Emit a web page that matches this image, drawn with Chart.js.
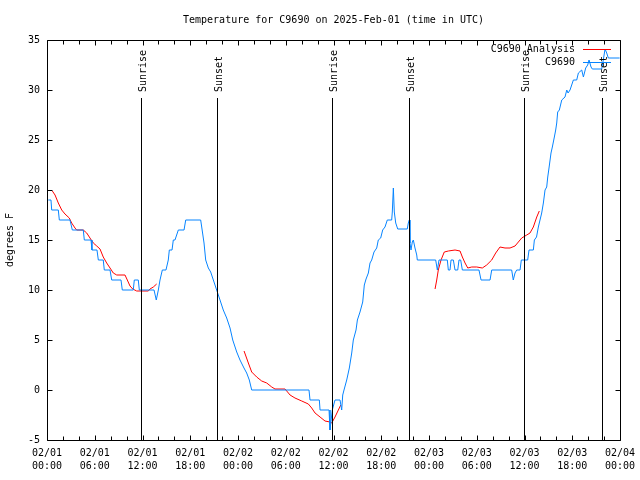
<!DOCTYPE html>
<html>
<head>
<meta charset="utf-8">
<script src="https://cdn.jsdelivr.net/npm/chart.js@4.4.1/dist/chart.umd.min.js"></script>
<style>
  html, body { margin: 0; padding: 0; background: #fff; }
  #wrap { width: 640px; height: 480px; }
</style>
</head>
<body>
<div id="wrap"><canvas id="chart" width="640" height="480"></canvas></div>
<script>
// hours since 02/01 00:00 UTC
const obsHours = [0.16,0.50,0.59,1.42,1.55,2.89,3.18,4.56,4.69,5.53,
  5.65,6.28,6.45,7.07,7.20,7.92,8.13,9.30,9.46,10.84,
  10.97,11.47,11.60,13.45,13.73,13.99,14.20,14.49,14.95,15.24,
  15.37,15.71,15.87,16.08,16.50,17.22,17.43,19.31,19.44,19.73,
  19.94,20.27,20.57,20.90,21.32,21.74,22.15,22.58,23.00,23.34,
  23.84,24.25,24.75,25.09,25.42,25.72,32.92,33.05,34.22,34.31,
  35.44,35.56,35.85,36.19,36.82,37.03,37.16,37.32,37.66,37.99,
  38.29,38.49,38.83,39.00,39.33,39.67,39.87,40.09,40.38,40.59,
  40.80,41.09,41.43,41.63,41.93,42.18,42.47,42.76,43.31,43.39,
  43.52,43.64,43.82,44.07,45.27,45.40,45.53,45.61,45.74,45.90,
  46.03,46.24,46.46,46.53,48.84,49.05,49.26,50.30,50.43,50.64,
  50.77,51.06,51.27,51.61,51.77,51.98,52.19,54.28,54.54,55.67,
  55.88,58.39,58.59,58.81,59.02,59.44,59.60,60.40,60.57,61.11,
  61.24,61.51,61.74,61.95,62.16,62.37,62.58,62.79,62.92,63.08,
  63.33,63.50,63.75,63.92,64.05,64.17,64.38,64.68,65.09,65.31,
  65.47,65.72,66.14,66.56,66.77,67.19,67.40,67.69,67.94,68.11,
  68.36,68.52,69.70,69.90,70.12,70.33,70.53,71.95];
const obsTemps = [19,19,18,18,17,17,16,16,15,15,
  14,14,13,13,12,12,11,11,10,10,
  11,11,10,10,9,10,11,12,12,13,
  14,14,15,15,16,16,17,17,16.3,14.7,
  13,12.2,11.8,11,10,9,8,7.2,6.2,5,
  3.8,3,2.2,1.7,1,0,0,-1,-1,-2,
  -2,-4,-2,-1,-1,-2,-0.5,0,1,2.2,
  3.7,5,6,7,7.8,8.8,10.5,11.1,11.7,12.7,
  13,13.8,14.2,15,15.2,16,16.3,17,17,17.8,
  20.2,17.8,16.7,16.1,16.1,16.7,17,14.7,14,14.8,
  15,14.2,13.5,13,13,12,13,13,12,12,
  13,13,12,12,13,13,12,12,11,11,
  12,12,11,11.7,12,12,13,13,14,14,
  15,15.3,16.3,17,17.7,18.7,20,20.3,21.3,22.2,
  23.7,24.3,25.3,26,26.7,27.8,28,29,29.3,30,
  29.7,30,31,31,31.7,32,31.3,32.2,32.5,33,
  32.3,32.1,32.1,33,34.1,33.7,33.2,33.2];

// analysis, null = gap
const anaHours = [0.67,1.01,1.42,1.85,2.26,2.80,3.10,3.52,3.73,4.15,
  4.56,4.99,5.40,5.82,6.25,6.66,7.07,7.50,7.92,8.33,
  8.76,9.80,10.09,10.43,10.77,11.27,12.73,12.94,13.36,13.78,
  19,
  24.76,25.30,25.72,26.35,26.98,27.61,28.24,28.65,29.91,30.54,
  31.16,32.01,32.84,33.26,33.68,34.31,34.93,35.56,35.78,36.19,
  36.61,36.91,
  42,
  48.76,48.97,49.17,49.51,49.92,50.43,51.27,51.90,52.19,52.53,
  52.87,53.37,54.00,54.70,55.25,55.88,56.38,56.92,57.55,58.18,
  58.81,59.23,59.65,60.28,60.69,61.11,61.54,61.86];
const anaTemps = [19.9,19.5,18.7,18.0,17.6,17.2,16.7,16.2,16.0,16.0,
  16.0,15.7,15.2,14.7,14.4,14.1,13.3,12.7,12.2,11.7,
  11.5,11.5,11.0,10.4,10.1,9.9,9.9,10.1,10.3,10.6,
  null,
  3.9,2.7,1.8,1.3,0.9,0.7,0.3,0.1,0.1,-0.5,
  -0.8,-1.1,-1.4,-1.8,-2.3,-2.7,-3.1,-3.2,-3.3,-2.7,
  -2.0,-1.5,
  null,
  10.1,11,12,13,13.8,13.9,14.0,13.9,13.3,12.7,
  12.2,12.3,12.3,12.2,12.5,13.0,13.7,14.3,14.2,14.2,
  14.4,14.8,15.2,15.5,15.7,16.3,17.3,17.9];

const sunHours = [11.84, 21.40, 35.85, 45.53, 59.98, 69.70];
const sunLabels = ["Sunrise", "Sunset", "Sunrise", "Sunset", "Sunrise", "Sunset"];

const dayLabels = ["02/01", "02/02", "02/03", "02/04"];
const yTicks = [-5, 0, 5, 10, 15, 20, 25, 30, 35];

const FONT = "'DejaVu Sans Mono', monospace";
const RED = "#ff0000";
const BLUE = "#0684ff";

function pts(hs, vs) {
  return hs.map((h, i) => ({ x: h, y: vs[i] }));
}

const gnuFrame = {
  id: "gnuFrame",
  afterDraw(chart) {
    const { ctx, chartArea: a, scales: { x, y } } = chart;
    const L = Math.round(a.left) + 0.5, R = Math.round(a.right) + 0.5;
    const T = Math.round(a.top) + 0.5, B = Math.round(a.bottom) + 0.5;
    ctx.save();
    ctx.strokeStyle = "#000";
    ctx.lineWidth = 1;
    ctx.beginPath();
    ctx.rect(L, T, R - L, B - T);
    // y ticks, mirrored
    yTicks.forEach(v => {
      const py = Math.round(y.getPixelForValue(v)) + 0.5;
      ctx.moveTo(L, py); ctx.lineTo(L + 5, py);
      ctx.moveTo(R, py); ctx.lineTo(R - 5, py);
    });
    // x ticks every 2 h, mirrored
    for (let h = 0; h <= 72; h += 2) {
      const px = Math.round(x.getPixelForValue(h)) + 0.5;
      const len = h % 6 === 0 ? 5 : 4;
      ctx.moveTo(px, B); ctx.lineTo(px, B - len);
      ctx.moveTo(px, T); ctx.lineTo(px, T + len);
    }
    ctx.stroke();

    // sunrise / sunset
    ctx.font = "10px " + FONT;
    ctx.fillStyle = "#000";
    sunHours.forEach((h, i) => {
      const px = Math.round(x.getPixelForValue(h)) + 0.5;
      ctx.beginPath();
      ctx.moveTo(px, 98);
      ctx.lineTo(px, B);
      ctx.stroke();
      ctx.save();
      ctx.translate(px + 1.5, 92);
      ctx.rotate(-Math.PI / 2);
      ctx.textAlign = "left";
      ctx.textBaseline = "middle";
      ctx.fillText(sunLabels[i], 0, 0);
      ctx.restore();
    });

    // key
    const keys = [["C9690 Analysis", RED, 49], ["C9690", BLUE, 62]];
    ctx.textAlign = "right";
    ctx.textBaseline = "middle";
    keys.forEach(([txt, col, ky]) => {
      ctx.fillStyle = "#000";
      ctx.fillText(txt, 575, ky);
      ctx.strokeStyle = col;
      ctx.beginPath();
      ctx.moveTo(583, ky + 0.5);
      ctx.lineTo(611, ky + 0.5);
      ctx.stroke();
    });
    ctx.restore();
  }
};

new Chart(document.getElementById("chart"), {
  type: "line",
  data: {
    datasets: [
      {
        label: "C9690",
        data: pts(obsHours, obsTemps),
        borderColor: BLUE,
        borderWidth: 1,
        pointRadius: 0,
        tension: 0
      },
      {
        label: "C9690 Analysis",
        data: pts(anaHours, anaTemps),
        borderColor: RED,
        borderWidth: 1,
        pointRadius: 0,
        spanGaps: false,
        tension: 0
      }
    ]
  },
  options: {
    responsive: false,
    animation: false,
    events: [],
    layout: { padding: { left: 0, right: 20, top: 0, bottom: 0 } },
    plugins: {
      legend: { display: false },
      tooltip: { enabled: false },
      title: {
        display: true,
        fullSize: false,
        text: "Temperature for C9690 on 2025-Feb-01 (time in UTC)",
        color: "#000",
        font: { family: FONT, size: 10, weight: "normal", lineHeight: 1.2 },
        padding: { top: 14, bottom: 14 }
      }
    },
    scales: {
      x: {
        type: "linear",
        min: 0,
        max: 72,
        grid: { display: false, drawTicks: false },
        border: { display: false },
        afterFit: s => { s.height = 40; s.paddingLeft = 0; s.paddingRight = 0; },
        ticks: {
          stepSize: 6,
          autoSkip: false,
          maxRotation: 0,
          padding: 7,
          color: "#000",
          font: { family: FONT, size: 10, lineHeight: 1.3 },
          callback: v => {
            const d = Math.floor(v / 24);
            const hh = String(v % 24).padStart(2, "0");
            return [dayLabels[d], hh + ":00"];
          }
        }
      },
      y: {
        min: -5,
        max: 35,
        grid: { display: false, drawTicks: false },
        border: { display: false },
        afterFit: s => { s.width = 47; s.paddingTop = 0; s.paddingBottom = 0; },
        title: {
          display: true,
          text: "degrees F",
          color: "#000",
          font: { family: FONT, size: 10 },
          padding: { top: 4, bottom: 0 }
        },
        ticks: {
          stepSize: 5,
          padding: 7,
          color: "#000",
          font: { family: FONT, size: 10 }
        }
      }
    }
  },
  plugins: [gnuFrame]
});
</script>
</body>
</html>
